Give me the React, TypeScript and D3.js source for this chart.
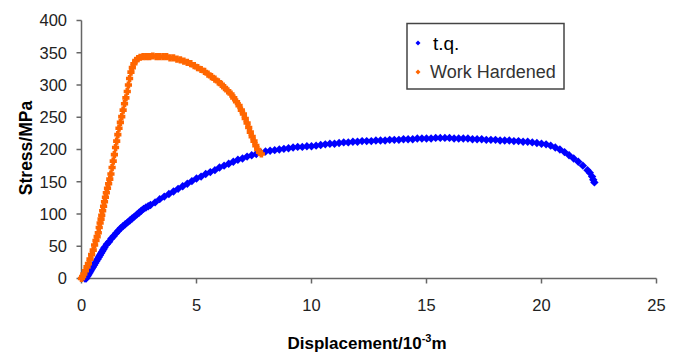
import React from "react";
import * as d3 from "d3";

const xTicks = [0, 5, 10, 15, 20, 25];
const yTicks = [0, 50, 100, 150, 200, 250, 300, 350, 400];

const tqX = [0.15, 0.2, 0.25, 0.3, 0.35, 0.4, 0.45, 0.5, 0.55, 0.6, 0.65, 0.7, 0.75, 0.8, 0.85, 0.9, 0.95, 1.0,
  1.1, 1.2, 1.3, 1.4, 1.5, 1.6, 1.7, 1.8, 1.9, 2.0, 2.1, 2.2, 2.3, 2.4, 2.5, 2.6, 2.7, 2.8, 2.9, 3.0,
  3.2, 3.4, 3.6, 3.8, 4.0, 4.2, 4.4, 4.6, 4.8, 5.0, 5.2, 5.4, 5.6, 5.8, 6.0, 6.2, 6.4, 6.6, 6.8, 7.0,
  7.2, 7.4, 7.6, 7.8, 8.0, 8.2, 8.4, 8.6, 8.8, 9.0, 9.2, 9.4, 9.6, 9.8, 10.0, 10.2, 10.4, 10.6, 10.8,
  11.0, 11.2, 11.4, 11.6, 11.8, 12.0, 12.2, 12.4, 12.6, 12.8, 13.0, 13.2, 13.4, 13.6, 13.8, 14.0, 14.2,
  14.4, 14.6, 14.8, 15.0, 15.2, 15.4, 15.6, 15.8, 16.0, 16.2, 16.4, 16.6, 16.8, 17.0, 17.2, 17.4, 17.6,
  17.8, 18.0, 18.2, 18.4, 18.6, 18.8, 19.0, 19.2, 19.4, 19.6, 19.8, 20.0, 20.2, 20.4, 20.6, 20.8, 21.0,
  21.2, 21.4, 21.6, 21.8, 22.0, 22.1, 22.2, 22.25, 22.3];
const tqY = [0, 0, 3, 6, 9, 12, 15, 18, 21, 24, 27, 30, 33, 36, 39, 42, 45, 48,
  53, 57, 62, 66, 70, 74, 78, 81, 84, 87, 90, 93, 96, 99, 102, 105, 108, 110, 112, 114,
  118, 123, 127, 131, 135, 139, 143, 147, 151, 155, 158, 162, 165, 168, 172, 175, 178, 181, 184, 186,
  189, 191, 193, 195, 197, 198, 199, 200, 201, 202, 203, 204, 204, 205, 205, 206, 207, 208, 209,
  209, 210, 211, 211, 212, 212, 213, 213, 213, 214, 214, 214, 215, 215, 215, 216, 216,
  216, 217, 217, 217, 217, 218, 218, 218, 218, 217, 217, 217, 217, 216, 216, 216, 215,
  215, 215, 214, 214, 214, 213, 213, 212, 212, 211, 210, 209, 208, 206, 203, 200, 196,
  191, 186, 181, 175, 168, 164, 158, 153, 149];

const whX = [0, 0.05, 0.1, 0.17, 0.24, 0.3, 0.37, 0.44, 0.51, 0.57, 0.63, 0.68, 0.73, 0.77, 0.81, 0.85, 0.88,
  0.92, 0.96, 1.0, 1.04, 1.08, 1.13, 1.18, 1.23, 1.28, 1.33, 1.38, 1.43, 1.48, 1.53, 1.58, 1.63, 1.69,
  1.75, 1.81, 1.87, 1.93, 1.99, 2.04, 2.09, 2.15, 2.21, 2.28, 2.36, 2.45, 2.55, 2.68, 2.82, 2.96, 3.1,
  3.25, 3.4, 3.55, 3.7, 3.85, 4.0, 4.15, 4.3, 4.45, 4.6, 4.75, 4.9, 5.05, 5.2, 5.35, 5.5, 5.65, 5.8,
  5.95, 6.08, 6.22, 6.36, 6.5, 6.62, 6.74, 6.85, 6.95, 7.04, 7.12, 7.2, 7.27, 7.34, 7.42, 7.5, 7.58,
  7.66, 7.74, 7.82];
const whY = [0, 3, 7, 12, 18, 23, 30, 37, 44, 52, 59, 65, 71, 79, 86, 92, 98,
  105, 112, 119, 126, 133, 140, 147, 154, 162, 172, 182, 192, 203, 213, 223, 233, 242,
  251, 261, 271, 280, 290, 300, 310, 320, 327, 333, 338, 341, 343, 344, 344, 344, 345,
  344, 344, 344, 344, 342, 342, 340, 339, 337, 335, 333, 330, 327, 324, 321, 317, 313, 309,
  305, 301, 296, 291, 286, 280, 274, 268, 261, 255, 248, 241, 234, 227, 220, 213, 206,
  200, 196, 193];

const seriesNames = ["t.q.", "Work Hardened"];
const colors = ["#0000FF", "#FF6600"];

const W = 675, H = 353;
const x = d3.scaleLinear().domain([0, 25]).range([81.5, 656.5]);
const y = d3.scaleLinear().domain([0, 400]).range([278.5, 20.5]);

const diamond = (r: number) => `M0,${-r}L${r},0L0,${r}L${-r},0Z`;
const cross = (r: number, w: number) =>
  `M${-w},${-r}H${w}V${-w}H${r}V${w}H${w}V${r}H${-w}V${w}H${-r}V${-w}H${-w}Z`;

export default function App() {
  const font = "'Liberation Sans', Arial, sans-serif";
  const axisColor = "#666";
  const tq = tqX.map((v, i) => [v, tqY[i]]);
  const wh = whX.map((v, i) => [v, whY[i]]);
  return (
    <svg width={W} height={H} style={{ position: "absolute", left: 0, top: 0 }} fontFamily={font}>
      <rect width={W} height={H} fill="#fff" />
      {/* axes */}
      <line x1={x(0)} x2={x(0)} y1={y(400)} y2={y(0)} stroke={axisColor} strokeWidth={1.5} />
      <line x1={x(0)} x2={x(25)} y1={y(0)} y2={y(0)} stroke={axisColor} strokeWidth={1.5} />
      {yTicks.map((t) => (
        <g key={"y" + t}>
          <line x1={x(0) - 5} x2={x(0)} y1={y(t)} y2={y(t)} stroke={axisColor} strokeWidth={1.5} />
          <text x={67} y={y(t)} dy="0.36em" textAnchor="end" fontSize={16.5} fill="#222">{t}</text>
        </g>
      ))}
      {xTicks.map((t) => (
        <g key={"x" + t}>
          <line x1={x(t)} x2={x(t)} y1={y(0)} y2={y(0) + 5} stroke={axisColor} strokeWidth={1.5} />
          <text x={x(t)} y={305} dy="0.36em" textAnchor="middle" fontSize={16.5} fill="#222">{t}</text>
        </g>
      ))}
      <text transform={`translate(32,148) rotate(-90)`} textAnchor="middle" fontSize={17.5} fontWeight="bold" fill="#000">Stress/MPa</text>
      <text x={367} y={349} textAnchor="middle" fontSize={17} fontWeight="bold" fill="#000">
        Displacement/10<tspan dy={-7} fontSize={11}>-3</tspan><tspan dy={7}>m</tspan>
      </text>
      {/* series */}
      <g fill={colors[0]}>
        {tq.map((p, i) => (
          <path key={"t" + i} d={diamond(4.2)} transform={`translate(${x(p[0])},${y(p[1])})`} />
        ))}
      </g>
      <g fill={colors[1]}>
        {wh.map((p, i) => (
          <path key={"w" + i} d={cross(3.6, 1.8)} transform={`translate(${x(p[0])},${y(p[1])})`} />
        ))}
      </g>
      {/* legend */}
      <rect x={407} y={23.5} width={157} height={65.5} fill="#fff" stroke="#444" strokeWidth={1.5} />
      {seriesNames.map((n, i) => (
        <g key={n} transform={`translate(0,${43 + i * 29})`}>
          <path d={diamond(2.5)} transform="translate(418,0)" fill={colors[i]} />
          <text x={i === 0 ? 433 : 430} y={0} dy="0.36em" fontSize={i === 0 ? 19 : 18} fill={i === 0 ? "#000" : "#333"}>{n}</text>
        </g>
      ))}
    </svg>
  );
}
